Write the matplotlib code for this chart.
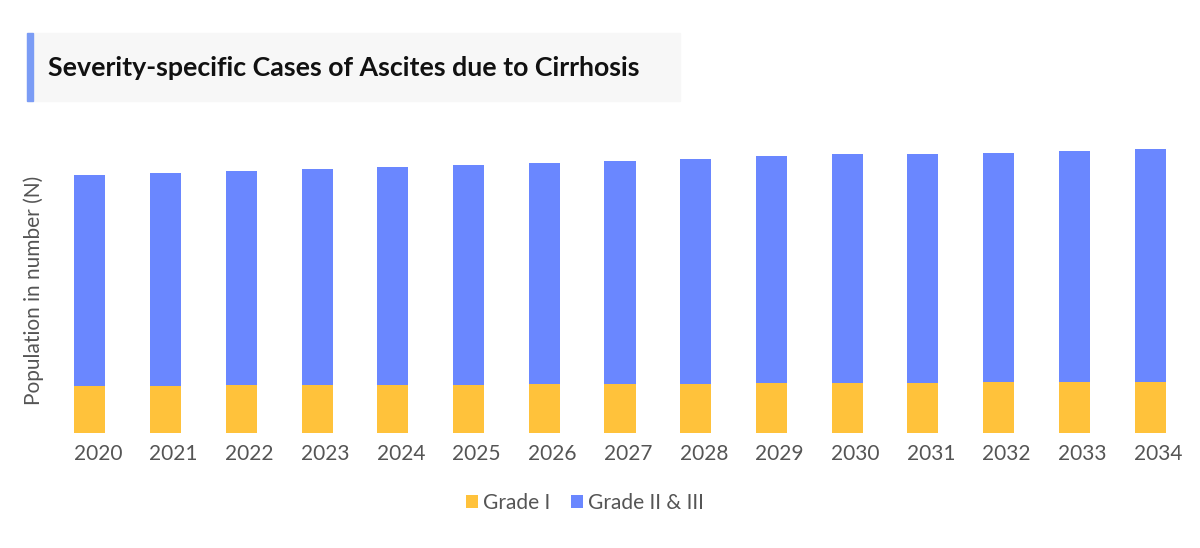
import matplotlib.pyplot as plt
import matplotlib.transforms as mtransforms
from matplotlib.patches import Rectangle
import numpy as np

years = [str(y) for y in range(2020, 2035)]
grade_1 = [47.3, 47.5, 48.0, 48.0, 48.3, 48.5, 48.7, 49.0, 49.5, 49.7, 50.0, 50.3, 50.6, 50.7, 50.8]
grade_2_3 = [210.7, 212.5, 214.0, 216.0, 217.7, 219.5, 221.8, 223.5, 225.0, 227.0, 229.0, 229.2, 229.4, 231.3, 233.2]

yellow = '#ffc23b'
blue = '#6a87ff'
gray = '#555555'

plt.rcParams['font.family'] = ['Lato', 'DejaVu Sans']

fig = plt.figure(figsize=(12, 5.48), dpi=100)
ax = fig.add_axes([52 / 1200, 115 / 548, 1136 / 1200, 300 / 548])

x = np.arange(len(years))
ax.bar(x, grade_1, width=0.41, color=yellow, label='Grade I')
ax.bar(x, grade_2_3, width=0.41, bottom=grade_1, color=blue, label='Grade II & III')

ax.set_xlim(-0.5, len(years) - 0.5)
ax.set_ylim(0, 300)
ax.set_xticks(x)
ax.set_xticklabels(years, fontsize=15, color=gray)
ax.tick_params(axis='x', length=0, pad=8)
# labels in the reference sit a little right of the bar centres
shift = mtransforms.ScaledTranslation(0.08, 0, fig.dpi_scale_trans)
for lbl in ax.get_xticklabels():
    lbl.set_transform(lbl.get_transform() + shift)
ax.set_yticks([])
for s in ax.spines.values():
    s.set_visible(False)

fig.text(34 / 1200, 1 - 290 / 548, 'Population in number (N)', rotation=90,
         ha='center', va='center', fontsize=15, color=gray)

# title box
fig.patches.append(Rectangle((27 / 1200, 1 - 101 / 548), 653 / 1200, 68 / 548,
                             transform=fig.transFigure, color='#f7f7f7', zorder=0))
fig.patches.append(Rectangle((27 / 1200, 1 - 101 / 548), 6 / 1200, 68 / 548,
                             transform=fig.transFigure, color='#7b9cf5', zorder=1))
fig.text(48 / 1200, 1 - 68 / 548, 'Severity-specific Cases of Ascites due to Cirrhosis',
         ha='left', va='center', fontsize=19.3, fontweight='bold', color='#111111')

leg = fig.legend(loc='center', bbox_to_anchor=(585 / 1200, 1 - 503 / 548), ncol=2,
                 frameon=False, fontsize=15, handlelength=0.55, handleheight=0.55,
                 handletextpad=0.25, columnspacing=1.0, labelcolor=gray)

fig.savefig('out.png', dpi=100)
